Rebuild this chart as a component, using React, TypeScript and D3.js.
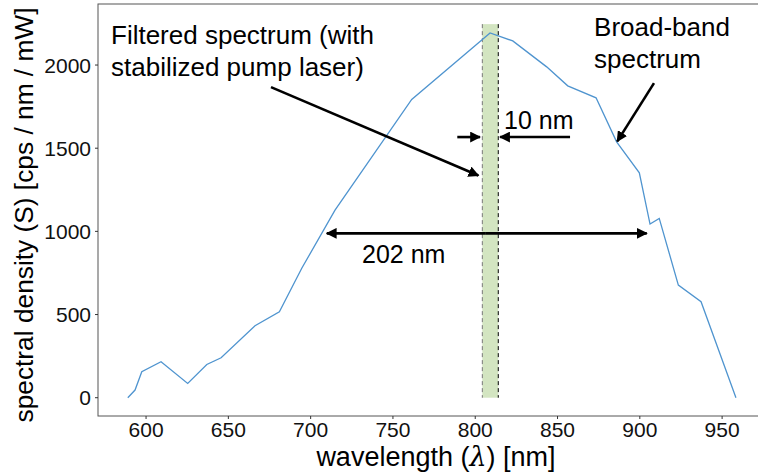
import React from 'react';
import { scaleLinear, line } from 'd3';

// broad-band spectrum
const wavelength = [588.9, 593.3, 597.4, 609.1, 625.3, 636.9, 645.6, 666.2, 681.0, 694.6, 714.8, 761.4, 809.0, 822.8, 843.4, 856.2, 873.4, 885.9, 899.7, 906.2, 911.8, 923.4, 937.2, 958.4];
const density = [0, 46, 156, 216, 86, 200, 240, 433, 517, 778, 1128, 1793, 2193, 2145, 1989, 1875, 1803, 1538, 1352, 1044, 1078, 677, 577, 0];

const xTicks = [600, 650, 700, 750, 800, 850, 900, 950];
const yTicks = [0, 500, 1000, 1500, 2000];

// filter band (nm) and its marker height
const band = [804.3, 814.0];
const bandTop = 2246;

const W = 758;
const H = 476;
const FONT = '"Liberation Sans", Arial, sans-serif';

export default function App() {
  const x = scaleLinear().domain([570.8, 971.8]).range([98, 758]);
  const y = scaleLinear().domain([-110, 2367]).range([416, 4]);

  const spectrumLine = line<number>()
    .x((d, i) => x(wavelength[i]))
    .y(d => y(d));

  const arrow = (x1: number, y1: number, x2: number, y2: number, key: string) => (
    <line key={key} x1={x(x1)} y1={y(y1)} x2={x(x2)} y2={y(y2)}
      stroke="#000" strokeWidth={2.6} markerEnd="url(#head)" />
  );

  return (
    <svg width={W} height={H} viewBox={`0 0 ${W} ${H}`}
      style={{ position: 'absolute', left: 0, top: 0, fontFamily: FONT }}>
      <defs>
        <marker id="head" viewBox="0 0 10 10" refX="9" refY="5" markerWidth="4.2" markerHeight="4.2"
          orient="auto" markerUnits="strokeWidth">
          <path d="M0,0 L10,5 L0,10 z" fill="#000" />
        </marker>
      </defs>

      {/* filter band */}
      <rect x={x(band[0])} y={y(bandTop)} width={x(band[1]) - x(band[0])} height={y(0) - y(bandTop)}
        fill="#d3e5c1" />
      <line x1={x(band[0])} x2={x(band[0])} y1={y(bandTop)} y2={y(0)}
        stroke="#777" strokeWidth={1} strokeDasharray="4,3" />
      <line x1={x(band[1])} x2={x(band[1])} y1={y(bandTop)} y2={y(0)}
        stroke="#000" strokeWidth={1} strokeDasharray="4,3" />

      {/* spectrum */}
      <path d={spectrumLine(density) || ''} fill="none" stroke="#4f94cf" strokeWidth={1.3} />

      {/* axes frame */}
      <rect x={98} y={4} width={W} height={412} fill="none" stroke="#555" strokeWidth={1} />
      {xTicks.map(t => (
        <g key={'x' + t}>
          <line x1={x(t)} x2={x(t)} y1={416} y2={419} stroke="#333" />
          <text x={x(t)} y={437} textAnchor="middle" fontSize={21} fill="#111">{t}</text>
        </g>
      ))}
      {yTicks.map(t => (
        <g key={'y' + t}>
          <line x1={95} x2={98} y1={y(t)} y2={y(t)} stroke="#333" />
          <text x={91} y={y(t) + 7.5} textAnchor="end" fontSize={21} fill="#111">{t}</text>
        </g>
      ))}

      <text x={436} y={466} textAnchor="middle" fontSize={27} fill="#000">
        wavelength (<tspan fontFamily='"DejaVu Serif", serif' fontStyle="italic">λ</tspan>) [nm]
      </text>
      <text transform="translate(33,215) rotate(-90)" textAnchor="middle" fontSize={26.3} fill="#000">
        spectral density (S) [cps / nm / mW]
      </text>

      {/* annotations */}
      <text x={x(578.7)} y={y(2126)} fontSize={26} fill="#000">
        <tspan x={x(578.7)}>Filtered spectrum (with</tspan>
        <tspan x={x(578.7)} dy={32}>stabilized pump laser)</tspan>
      </text>
      <text x={x(872.2)} y={y(2174)} fontSize={26} fill="#000">
        <tspan x={x(872.2)}>Broad-band</tspan>
        <tspan x={x(872.2)} dy={32}>spectrum</tspan>
      </text>
      <text x={x(817.5)} y={y(1615)} fontSize={25} fill="#000">10 nm</text>
      <text x={x(731.2)} y={y(812)} fontSize={25} fill="#000">202 nm</text>

      {arrow(675.9, 1867, 801.9, 1336, 'a1')}
      {arrow(908.6, 1891, 886.3, 1541, 'a2')}
      {arrow(789.1, 1567, 802.9, 1567, 'a3')}
      {arrow(857.6, 1567, 815.1, 1567, 'a4')}
      {arrow(806, 988, 709.8, 988, 'a5')}
      {arrow(806, 988, 904.2, 988, 'a6')}
    </svg>
  );
}
